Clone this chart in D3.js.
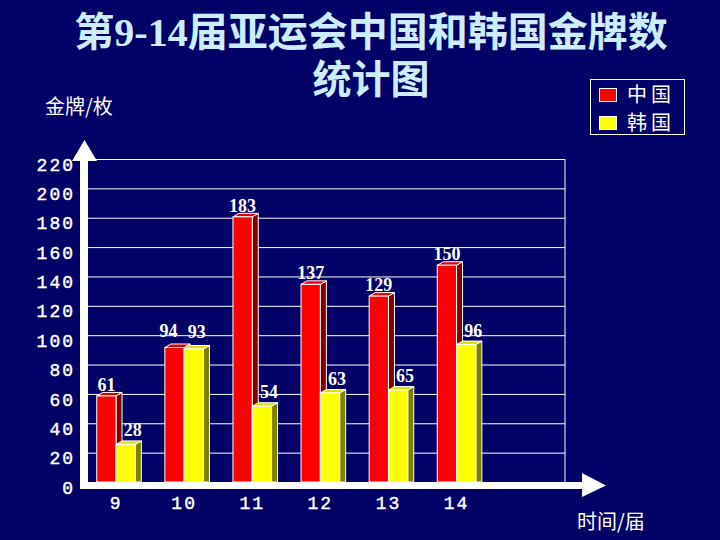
<!DOCTYPE html>
<html><head><meta charset="utf-8">
<script src="https://cdn.jsdelivr.net/npm/d3@7"></script>
<style>
html,body{margin:0;padding:0;background:#000066;}
svg{display:block;}
</style>
</head><body>
<svg id="c" width="720" height="540"></svg>
<script>
const categories = ["9", "10", "11", "12", "13", "14"];
const chinaGold = [61, 94, 183, 137, 129, 150];
const koreaGold = [28, 93, 54, 63, 65, 96];
const seriesNames = ["中国", "韩国"];
const yTicks = [0, 20, 40, 60, 80, 100, 120, 140, 160, 180, 200, 220];

const colors = {
  front: ["#FF0000", "#FFFF00"],
  side: ["#800000", "#808000"],
  top: ["#E00000", "#E0E000"]
};

const svg = d3.select("#c");
const bg = "#000066";
svg.append("rect").attr("width", 720).attr("height", 540).attr("fill", bg);

const plotLeft = 88, plotRight = 565, plotTop = 159, plotBottom = 482;
const x = d3.scaleBand().domain(categories).range([82, 82 + 6 * 68.1]).padding(0);
const y = d3.scaleLinear().domain([0, 220]).range([plotBottom, plotTop]);

// gridlines
const grid = svg.append("g").attr("transform", `translate(${plotLeft},0)`)
  .call(d3.axisLeft(y).tickValues(yTicks).tickSize(-(plotRight - plotLeft)).tickFormat(""));
grid.select(".domain").remove();
grid.selectAll("line").attr("stroke", "#ffffff").attr("stroke-width", 1);
svg.append("line").attr("x1", plotRight).attr("x2", plotRight).attr("y1", plotTop).attr("y2", plotBottom)
  .attr("stroke", "#fff").attr("stroke-width", 1);

// y tick labels
const yAxis = svg.append("g").attr("transform", `translate(${plotLeft},0)`)
  .call(d3.axisLeft(y).tickValues(yTicks).tickSize(0).tickPadding(13));
yAxis.select(".domain").remove();
yAxis.selectAll("text").attr("fill", "#fff").attr("dy", "0.62em")
  .style("font-family", "'Liberation Mono', monospace").style("font-size", "18px")
  .style("letter-spacing", "2px").style("stroke", "#fff").style("stroke-width", "0.4px");

// bars
const bw = 19.3, dx = 6, dy = -3.5;
const series = [chinaGold, koreaGold];
categories.forEach((cat, i) => {
  const c = x(cat) + x.bandwidth() / 2;
  series.forEach((vals, s) => {
    const v = vals[i];
    const x0 = s === 0 ? c - bw : c;
    const x1 = x0 + bw;
    const yt = y(v) + 3.5;
    const yb = plotBottom;
    const g = svg.append("g");
    g.append("path").attr("d", `M${x1},${yb} L${x1},${yt} L${x1 + dx},${yt + dy} L${x1 + dx},${yb} Z`)
      .attr("fill", colors.side[s]).attr("stroke", "#fff").attr("stroke-width", 1);
    g.append("path").attr("d", `M${x0},${yt} L${x0 + dx},${yt + dy} L${x1 + dx},${yt + dy} L${x1},${yt} Z`)
      .attr("fill", colors.top[s]).attr("stroke", "#fff").attr("stroke-width", 1);
    g.append("rect").attr("x", x0).attr("y", yt).attr("width", bw).attr("height", yb - yt)
      .attr("fill", colors.front[s]).attr("stroke", "#fff").attr("stroke-width", 1);
  });
});

// value labels
categories.forEach((cat, i) => {
  const c = x(cat) + x.bandwidth() / 2;
  series.forEach((vals, s) => {
    const v = vals[i];
    let cx = s === 0 ? c - bw / 2 + 0 : c + bw / 2 + 7;
    let off = s === 0 ? -1.5 : -4.5;
    if (i === 1) { cx += s === 0 ? -6 : -4; off = -7; }
    svg.append("text").attr("x", cx).attr("y", y(v) + off)
      .attr("text-anchor", "middle").attr("fill", "#fff")
      .style("font-family", "'Liberation Serif', 'Times New Roman', serif")
      .style("font-weight", "bold").style("font-size", "18px").text(v);
  });
});

// axes (white thick bars with arrows)
svg.append("rect").attr("x", 80).attr("y", 150).attr("width", 8).attr("height", 339).attr("fill", "#fff");
svg.append("path").attr("d", "M72,161 L84.5,140 L97,161 Z").attr("fill", "#fff");
svg.append("rect").attr("x", 80).attr("y", 482).attr("width", 505).attr("height", 7).attr("fill", "#fff");
svg.append("path").attr("d", "M582,473 L606,485.5 L582,497 Z").attr("fill", "#fff");

// x tick labels
const xAxis = svg.append("g").attr("transform", `translate(0,488)`)
  .call(d3.axisBottom(x).tickSize(0).tickPadding(8));
xAxis.select(".domain").remove();
xAxis.selectAll("text").attr("fill", "#fff")
  .style("font-family", "'Liberation Mono', monospace").style("font-size", "18px")
  .style("letter-spacing", "2px").style("stroke", "#fff").style("stroke-width", "0.4px");

// title (one text element, wrapped onto two lines)
const title = svg.append("text").attr("x", 371).attr("y", 46).attr("text-anchor", "middle")
  .attr("fill", "#CCECFF").style("font-family", "'Noto Sans CJK SC', sans-serif")
  .style("font-weight", "bold").style("font-size", "40px");
title.append("tspan").text("第");
title.append("tspan").style("font-family", "'Liberation Serif', serif").text("9-14");
title.append("tspan").text("届亚运会中国和韩国金牌数");
title.append("tspan").attr("x", 371).attr("y", 93).style("font-size", "39px").text("统计图");

// axis titles
svg.append("text").attr("x", 45).attr("y", 114).attr("fill", "#fff")
  .style("font-family", "'Noto Sans CJK SC', sans-serif").style("font-size", "20px").text("金牌/枚");
svg.append("text").attr("x", 577).attr("y", 529).attr("fill", "#fff")
  .style("font-family", "'Noto Sans CJK SC', sans-serif").style("font-size", "20px").text("时间/届");

// legend
const lg = svg.append("g");
lg.append("rect").attr("x", 590.5).attr("y", 79.5).attr("width", 94).attr("height", 55)
  .attr("fill", bg).attr("stroke", "#fff").attr("stroke-width", 1);
seriesNames.forEach((n, s) => {
  const yy = [88, 116][s];
  lg.append("rect").attr("x", 599.5).attr("y", yy + 0.5).attr("width", 17).attr("height", 13)
    .attr("fill", colors.front[s]).attr("stroke", "#fff").attr("stroke-width", 1);
  lg.append("text").attr("x", 627).attr("y", yy + 14).attr("fill", "#fff")
    .style("font-family", "'Noto Sans CJK SC', sans-serif").style("font-size", "20px")
    .style("letter-spacing", "4px").text(n);
});
</script>
</body></html>
